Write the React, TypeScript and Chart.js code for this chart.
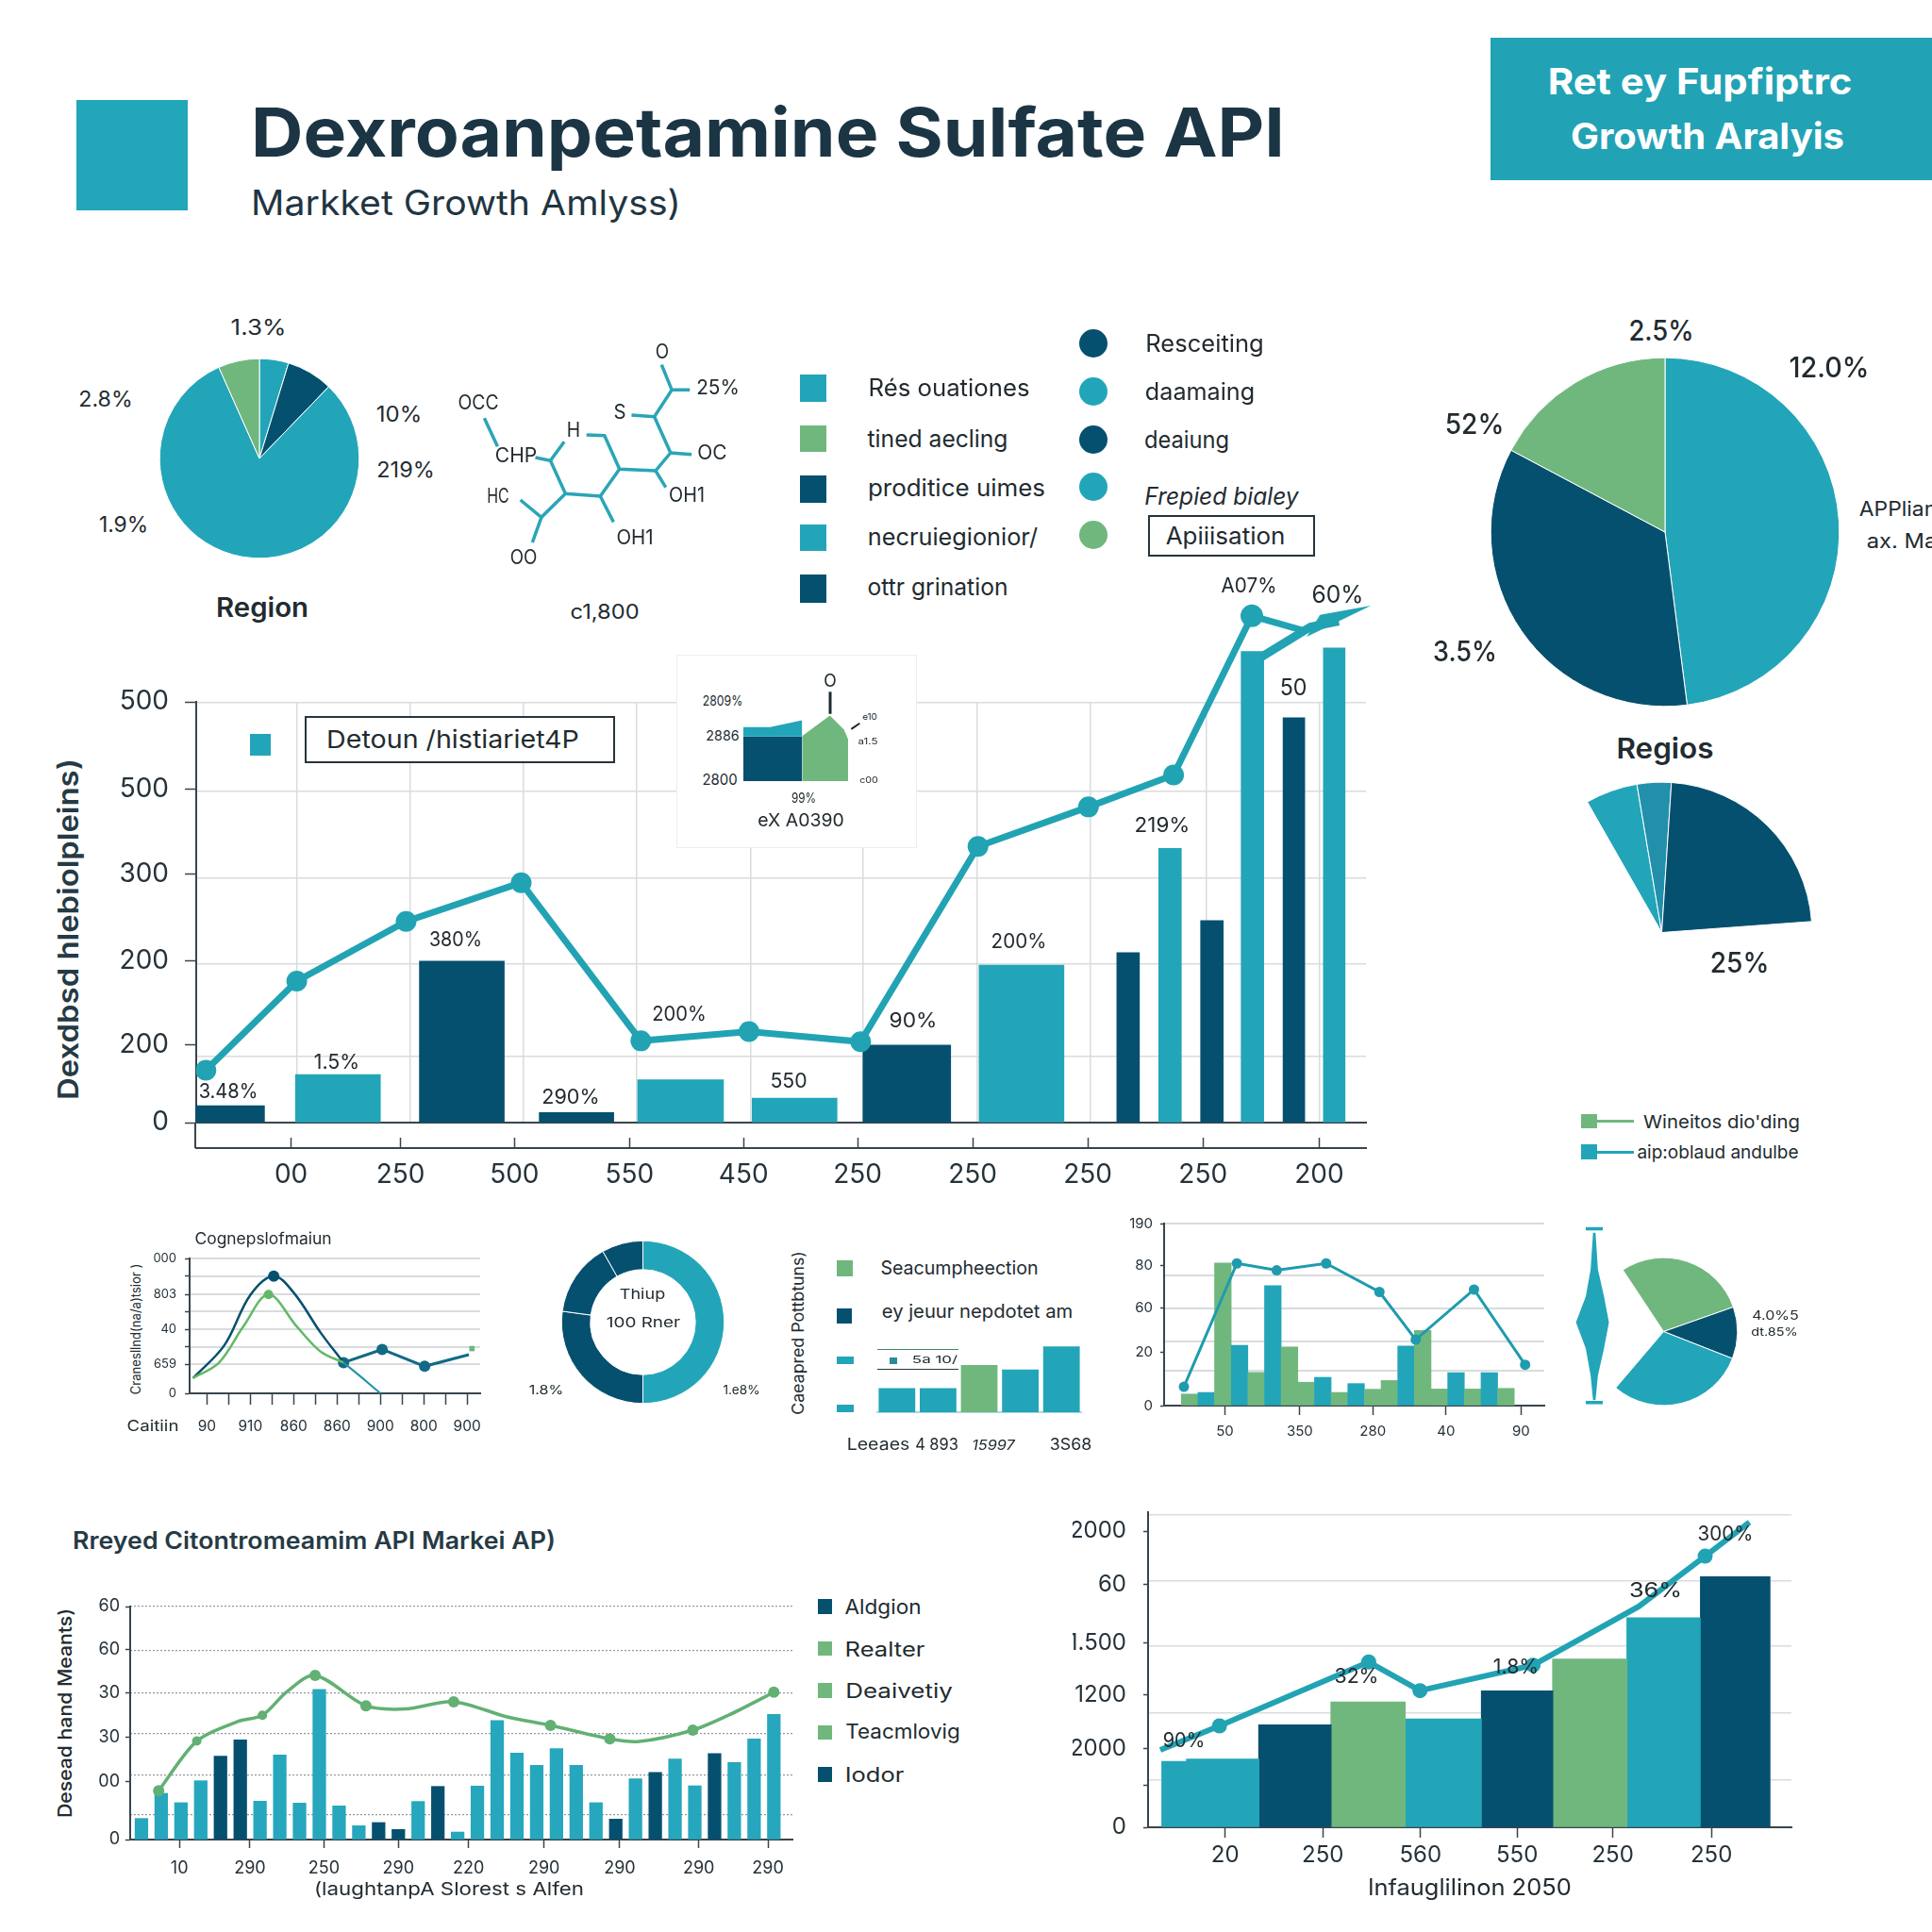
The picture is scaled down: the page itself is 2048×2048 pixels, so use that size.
import React, { useEffect, useRef } from "react";
import { Chart, registerables } from "chart.js";

Chart.register(...registerables);
Chart.defaults.plugins.legend.display = false;
Chart.defaults.plugins.tooltip.enabled = false;
Chart.defaults.font.family = "Inter";
Chart.defaults.color = "#25323a";

const S = 2048 / 1568;
const TEAL = "#23a5b9";
const DARK = "#06506f";
const GREEN = "#70b77e";
const LINE = "#22a3b3";
const GRID = "#d9dcde";
const AXIS = "#39454c";
const t = TEAL, d = DARK, g = GREEN;

// ---------- data ----------
const mainTickLabels = ["00", "250", "500", "550", "450", "250", "250", "250", "250", "200"];
const mainTickX = [0, 0.95, 1.94, 2.94, 3.93, 4.92, 5.92, 6.92, 7.92, 8.93];
const mainGridX = [0.05, 1.03, 2.02, 3.0, 3.99, 4.97, 5.96, 6.94, 7.95, 8.93];
const mainYTicks = [0, 92, 192, 295, 396, 500];
const mainYLabels = ["0", "200", "200", "300", "500", "500"];
const mainYGrid = [79, 189, 291, 394, 499];
const mainBarX = [-0.53, 0.407, 1.483, 2.479, 3.383, 4.373, 5.348, 6.344, 7.27, 7.634, 7.998, 8.35, 8.71, 9.06];
const mainBarY = [20, 57, 192, 12, 51, 29, 92, 187, 202, 326, 240, 560, 481, 564];
const mainBarW = [73, 90, 90, 79, 91, 90, 93, 90, 24, 24, 24, 24, 23, 23];
const mainBarC = [d, t, d, d, t, t, d, t, d, t, d, t, d, t];
const mainLineX = [-0.74, 0.05, 1.0, 2.0, 3.04, 3.98, 4.95, 5.97, 6.93, 7.67, 8.35, 8.79];
const mainLineY = [61, 167, 238, 284, 96, 107, 95, 327, 374, 412, 601, 584];
const mainLineR = [11, 11, 11, 11, 11, 11, 11, 11, 11, 11, 12, 0];
const arrowX = [8.43, 8.86, 9.106];
const arrowY = [552, 588, 594.7];

const pieRegion = [17, 27, 292, 24];
const pieRegionColors = [t, d, t, g];
const pieBig = [172.7, 125.3, 62];
const pieBigColors = [t, d, g];
const pieFan = [20.2, 13.2, 82.1, 244.5];
const pieFanColors = [t, "#2390ab", d, "transparent"];
const ringValues = [180, 97.7, 52.8, 29.5];
const ringColors = [t, d, d, d];
const pieSmall = [104.1, 40.8, 109, 106.1];
const pieSmallColors = [g, d, t, "transparent"];

const moleculeBonds = [
  [[1100, 260], [1117, 340], [1147, 340]],
  [[1117, 340], [1088, 425], [1050, 420]],
  [[1088, 425], [1115, 540], [1150, 545]],
  [[1115, 540], [1090, 597], [1030, 592], [1005, 485], [975, 483]],
  [[1030, 592], [998, 678], [940, 670], [915, 565], [890, 555]],
  [[915, 565], [938, 505]],
  [[1090, 597], [1107, 650]],
  [[998, 678], [1020, 760]],
  [[940, 670], [900, 745], [865, 690]],
  [[900, 745], [885, 825]],
  [[805, 430], [827, 520]],
];

const insetTop = [[265, 171], [350, 171], [452, 193]];
const insetDark = [[265, 141], [452, 141]];
const insetGreen = [[452, 143], [540, 208], [585, 163], [598, 133]];

const aTicksX = [0, 0.5, 1, 1.5, 2, 2.5, 3, 3.5, 4, 4.5, 5, 5.5, 6];
const aLabelsX = ["90", "", "910", "", "860", "", "860", "", "900", "", "800", "", "900"];
const aTicksY = [0, 23.7, 37.8, 51.8, 66.4, 80.4, 95.2, 109.7];
const aLabelsY = ["0", "659", "", "40", "", "803", "", "000"];
const aDark = [[-0.32, 12.4], [0.4, 39], [1, 80], [1.54, 95.4], [2.01, 81.4], [2.62, 49.4], [3.15, 25]];
const aGreen = [[-0.32, 12.4], [0.28, 25], [0.84, 54.4], [1.42, 80.4], [2.07, 54.4], [2.62, 34], [3.15, 25]];
const aTail = [[3.15, 25], [4.04, 35.7], [5.02, 22], [6.04, 31.4]];
const aDrop = [[3.15, 25], [3.6, 12], [4, 0]];
const aMark = [[6.11, 36.4]];

const cCats = ["a", "b", "c", "d", "e"];
const cVals = [22, 22, 43, 39, 60];
const cCols = [t, t, g, t, t];

const dBars = [9.4, 10.7, 116, 49, 27, 97.5, 47.7, 19, 23, 10.7, 17.9, 13.3, 20.4, 48.5, 61, 13.5, 26.8, 13.5, 26.8, 14];
const dCols = [g, t, g, t, g, t, g, g, t, g, t, g, g, t, g, g, t, g, t, g];
const dLine = [[-0.34, 15.3], [2.84, 115.6], [5.23, 110], [8.2, 115.6], [11.4, 92.4], [13.58, 53.6], [17.08, 94.4], [20.15, 33.2]];
const dTicksX = [2.12, 6.62, 11, 15.4, 19.9];
const dLabelsX = ["50", "350", "280", "40", "90"];
const dTicksY = [0, 43, 79, 114, 148];
const dLabelsY = ["0", "20", "60", "80", "190"];
const dGrid = [28, 52, 79, 106, 148];

const spindleLeft = [[-1, 1000], [-3, 1030], [-7, 1052], [-15, 1073], [-7, 1094], [-3, 1116], [-1, 1136]];
const spindleRight = [[1, 1000], [3, 1030], [8, 1052], [12, 1073], [8, 1094], [3, 1116], [1, 1136]];

const fBars = [17.1, 37.5, 29.9, 47.7, 67.6, 80.9, 31.1, 68.7, 29.6, 121.7, 27.3, 11.2, 13.8, 8.2, 30.9, 43.1, 6.1, 43.4, 96.5, 70.2, 60.2, 73.8, 60.2, 29.9, 16.6, 49.3, 54.4, 65.3, 43.6, 69.7, 62.5, 81.7, 101.6];
const fDarkIdx = [4, 5, 12, 13, 15, 24, 26, 29];
const fLine = [[0.87, 39.6], [2.8, 79.9], [4.87, 95.7], [6.12, 100.8], [7.37, 120], [8.79, 133.2], [11.36, 108.5], [13.36, 105.9], [15.8, 111.8], [18.5, 99.5], [20.7, 92.6], [23.7, 81.7], [25.2, 79.6], [27.9, 88.8], [29.7, 100.8], [32, 119.5]];
const fLineR = [6, 5, 0, 5, 0, 6, 6, 0, 6, 0, 6, 6, 0, 6, 0, 6];
const fTicksX = [1.92, 5.49, 9.24, 13, 16.55, 20.37, 24.2, 28.2, 31.7];
const fLabelsX = ["10", "290", "250", "290", "220", "290", "290", "290", "290"];
const fTicksY = [0, 47, 83, 119, 154.4, 189];
const fLabelsY = ["0", "00", "30", "30", "60", "60"];
const fGrid = [20, 52.3, 86.2, 119, 153.6, 189];

const gBarX = [-0.52, -0.025, 0.714, 1.463, 2.234, 2.99, 3.734, 4.49, 5.224];
const gBarY = [53.6, 55.6, 83.2, 101.8, 88, 110.8, 136.8, 170.2, 203.7];
const gBarW = [27, 77, 77, 79, 81, 76, 79, 78, 74];
const gBarC = [t, t, d, g, t, d, g, t, d];
const gLine = [[-0.665, 62.8], [-0.059, 82.4], [1.47, 134.3], [1.995, 111], [3.153, 131.7], [4.236, 179.4], [4.916, 220.3], [5.37, 247.8]];
const gLineR = [0, 8, 8, 8, 8, 0, 8, 0];
const gTicksX = [0, 1, 2, 2.99, 3.97, 4.98];
const gLabelsX = ["20", "250", "560", "550", "250", "250"];
const gTicksY = [0, 33.9, 64, 107.5, 150, 197, 240.6];
const gLabelsY = ["0", "", "2000", "1200", "1.500", "60", "2000"];
const gGrid = [38.2, 92.6, 147.3, 200.6, 253.6];

// ---------- helpers ----------
const pts = (a: number[][]) => a.map(([x, y]) => ({ x, y }));
const zip = (xs: number[], ys: number[]) => xs.map((x, i) => ({ x, y: ys[i] }));

function barsOf(xs: number[], ys: number[], ws: number[], cs: string[]) {
  return xs.map((x, i) => ({
    type: "bar",
    data: [{ x, y: ys[i] }],
    barThickness: ws[i],
    backgroundColor: cs[i],
    grouped: false,
    clip: false,
    order: 2,
  }));
}
function lineOf(data: any[], color: string, width: number, radius: any, extra: any = {}) {
  return {
    type: "line",
    data,
    borderColor: color,
    backgroundColor: color,
    borderWidth: width,
    pointRadius: radius,
    pointBorderWidth: 0,
    pointBackgroundColor: color,
    tension: 0,
    clip: false,
    order: 0,
    ...extra,
  };
}
function tickAxis(o: any) {
  return {
    type: "linear",
    min: o.min,
    max: o.max,
    position: o.position,
    weight: o.weight ?? 0,
    reverse: false,
    offset: false,
    afterFit(s: any) {
      if (s.isHorizontal()) s.height = o.size;
      else s.width = o.size;
    },
    afterBuildTicks(s: any) {
      s.ticks = o.vals.map((value: number) => ({ value }));
    },
    ticks: {
      display: o.labels !== undefined,
      autoSkip: false,
      maxRotation: 0,
      minRotation: 0,
      padding: o.padding ?? 6,
      color: o.color ?? "#25323a",
      font: { size: o.font ?? 16, family: "Inter" },
      callback: (_: any, i: number) => (o.labels ? o.labels[i] ?? "" : ""),
    },
    grid: {
      offset: false,
      drawOnChartArea: false,
      drawTicks: o.tickLength !== 0,
      tickLength: o.tickLength ?? 8,
      tickColor: o.tickColor ?? AXIS,
      tickWidth: o.tickWidth ?? 1.5,
    },
    border: { display: o.border !== false, color: o.borderColor ?? AXIS, width: o.borderWidth ?? 2 },
  };
}
function gridAxis(o: any) {
  return {
    type: "linear",
    min: o.min,
    max: o.max,
    position: o.position,
    offset: false,
    afterFit(s: any) {
      if (s.isHorizontal()) s.height = 0;
      else s.width = 0;
    },
    afterBuildTicks(s: any) {
      s.ticks = o.vals.map((value: number) => ({ value }));
    },
    ticks: { display: false },
    grid: { offset: false, drawTicks: false, color: o.color ?? GRID, lineWidth: o.lineWidth ?? 1.5 },
    border: { display: false, dash: o.dash },
  };
}

function Plot({ rect, margin = [0, 0, 0, 0], make }: any) {
  const ref = useRef<HTMLCanvasElement>(null);
  const [x1, y1, x2, y2] = rect;
  const [l, tp, r, b] = margin;
  const w = Math.round((x2 - x1) * S + l + r);
  const h = Math.round((y2 - y1) * S + tp + b);
  useEffect(() => {
    const base = make();
    const chart = new Chart(ref.current as any, {
      ...base,
      options: {
        responsive: false,
        animation: false,
        events: [],
        devicePixelRatio: 1,
        layout: { autoPadding: false, padding: { top: tp, right: r, left: 0, bottom: 0 } },
        ...base.options,
        plugins: { legend: { display: false }, tooltip: { enabled: false } },
      },
    } as any);
    return () => chart.destroy();
  }, []);
  return (
    <canvas
      ref={ref}
      width={w}
      height={h}
      style={{ position: "absolute", left: Math.round(x1 * S - l), top: Math.round(y1 * S - tp), width: w, height: h }}
    />
  );
}

function Pie({ cx, cy, r, values, colors, rotation = 0, cutout = 0, border = 1 }: any) {
  const ref = useRef<HTMLCanvasElement>(null);
  const R = r * S;
  const size = Math.ceil(2 * R + 8);
  useEffect(() => {
    const chart = new Chart(ref.current as any, {
      type: "doughnut",
      data: {
        labels: values.map((_: number, i: number) => String(i)),
        datasets: [
          {
            data: values,
            backgroundColor: colors,
            borderColor: colors.map((c: string) => (c === "transparent" ? "transparent" : "#ffffff")),
            borderWidth: border,
          },
        ],
      },
      options: {
        responsive: false,
        animation: false,
        events: [],
        devicePixelRatio: 1,
        rotation,
        radius: R,
        cutout: cutout * S,
        plugins: { legend: { display: false }, tooltip: { enabled: false } },
      },
    } as any);
    return () => chart.destroy();
  }, []);
  return (
    <canvas
      ref={ref}
      width={size}
      height={size}
      style={{ position: "absolute", left: Math.round(cx * S - size / 2), top: Math.round(cy * S - size / 2), width: size, height: size }}
    />
  );
}

let measure: CanvasRenderingContext2D | null = null;
function T({ x1, x2, y, text, size = 22, weight = 400, color = "#222b30", italic = false, rot = false, family = "Inter" }: any) {
  if (!measure) measure = document.createElement("canvas").getContext("2d");
  const font = `${italic ? "italic " : ""}${weight} ${size}px ${family}`;
  (measure as any).font = font;
  const w = (measure as any).measureText(text).width || 1;
  const k = ((x2 - x1) * S) / w;
  const cx = rot ? y : (x1 + x2) / 2;
  const cy = rot ? (x1 + x2) / 2 : y;
  return (
    <span
      style={{
        position: "absolute",
        left: cx * S,
        top: cy * S,
        whiteSpace: "nowrap",
        font,
        lineHeight: 1,
        color,
        transform: `translate(-50%,-50%) ${rot ? "rotate(-90deg)" : ""} scaleX(${k})`,
      }}
    >
      {text}
    </span>
  );
}

function Box({ x1, y1, x2, y2, c, round = false, style = {} }: any) {
  return (
    <div
      style={{
        position: "absolute",
        left: x1 * S,
        top: y1 * S,
        width: (x2 - x1) * S,
        height: (y2 - y1) * S,
        background: c,
        borderRadius: round ? "50%" : 0,
        boxSizing: "border-box",
        ...style,
      }}
    />
  );
}

// ---------- charts ----------
const MAIN_X_MIN = -0.824;
function mainConfig() {
  const xMax = 9.336;
  return {
    type: "bar",
    data: { datasets: barsOf(mainBarX, mainBarY, mainBarW, mainBarC) },
    options: {
      scales: {
        y: tickAxis({ min: 0, max: 500, position: "left", size: 90, vals: mainYTicks, labels: mainYLabels, font: 28, padding: 17, tickLength: 12 }),
        yg: gridAxis({ min: 0, max: 500, position: "right", vals: mainYGrid }),
        xg: gridAxis({ min: MAIN_X_MIN, max: xMax, position: "top", vals: mainGridX }),
        x: tickAxis({ min: MAIN_X_MIN, max: xMax, position: "bottom", weight: 0, size: 27, vals: [], tickLength: 0, border: true }),
        x2: tickAxis({ min: MAIN_X_MIN, max: xMax, position: "bottom", weight: 1, size: 57, vals: mainTickX, labels: mainTickLabels, font: 28, tickLength: -11, padding: 23 }),
      },
    },
  };
}

// The trend line rises above the axis frame, so it sits on its own transparent layer
// whose scales continue the main chart's scales upward and to the right.
function mainLineConfig() {
  const arrow = document.createElement("canvas");
  arrow.width = 68;
  arrow.height = 33;
  const c = arrow.getContext("2d") as CanvasRenderingContext2D;
  c.fillStyle = LINE;
  c.beginPath();
  c.moveTo(14, 9.7);
  c.lineTo(68, 0);
  c.lineTo(0, 33);
  c.closePath();
  c.fill();
  return {
    type: "line",
    data: {
      datasets: [
        lineOf(zip(mainLineX, mainLineY), LINE, 7, mainLineR),
        lineOf(zip(arrowX, arrowY), LINE, 9, [0, 0, 17], {
          pointStyle: (ctx: any) => (ctx.dataIndex === 2 ? arrow : "circle"),
        }),
      ],
    },
    options: {
      scales: {
        x: { type: "linear", min: MAIN_X_MIN, max: 9.465, display: false },
        y: { type: "linear", min: 0, max: 630, display: false },
      },
    },
  };
}

function moleculeConfig() {
  return {
    type: "scatter",
    data: {
      datasets: moleculeBonds.map((b) => ({
        data: pts(b),
        showLine: true,
        borderColor: "#2aa5b6",
        borderWidth: 3.5,
        pointRadius: 0,
      })),
    },
    options: {
      scales: {
        x: { type: "linear", min: 740, max: 1200, display: false },
        y: { type: "linear", min: 240, max: 840, reverse: true, display: false },
      },
    },
  };
}

function insetConfig() {
  return {
    type: "line",
    data: {
      datasets: [
        lineOf(pts(insetTop), TEAL, 0, 0, { fill: "+1" }),
        lineOf(pts(insetDark), DARK, 0, 0, { fill: "origin" }),
        lineOf(pts(insetGreen), GREEN, 0, 0, { fill: "origin" }),
        lineOf(pts([[541, 213], [541, 283]]), "#1c2a30", 3, 0),
        lineOf(pts([[608, 165], [635, 183]]), "#1c2a30", 2, 0),
      ],
    },
    options: {
      scales: {
        x: { type: "linear", min: 265, max: 640, display: false },
        y: { type: "linear", min: 0, max: 293, display: false },
      },
    },
  };
}

function aConfig() {
  const yb = { min: 0, max: 109.7 };
  const xb = { min: -0.4, max: 6.3 };
  return {
    type: "line",
    data: {
      datasets: [
        lineOf(pts(aDrop), "#1f93a8", 2, 0, { tension: 0.2 }),
        lineOf(pts(aGreen), "#63b867", 2.5, [0, 0, 0, 5, 0, 0, 0], { tension: 0.35 }),
        lineOf(pts(aDark), DARK, 2.5, [0, 0, 0, 6, 0, 0, 0], { tension: 0.35 }),
        lineOf(pts(aTail), "#126a86", 3, [6, 6, 6, 0]),
        lineOf(pts(aMark), GREEN, 0, 4, { pointStyle: "rect" }),
      ],
    },
    options: {
      scales: {
        x: tickAxis({ ...xb, position: "bottom", size: 50, vals: aTicksX, labels: aLabelsX, font: 15.5, tickLength: 12, padding: 14 }),
        y: tickAxis({ ...yb, position: "left", size: 45, vals: aTicksY, labels: aLabelsY, font: 13, tickLength: 5, padding: 9 }),
        yg: gridAxis({ ...yb, position: "right", vals: aTicksY.slice(1), lineWidth: 2 }),
      },
    },
  };
}

function cConfig() {
  return {
    type: "bar",
    data: {
      labels: cCats,
      datasets: [{ data: cVals, backgroundColor: cCols, barPercentage: 0.89, categoryPercentage: 1 }],
    },
    options: {
      scales: {
        x: { grid: { display: false }, ticks: { display: false }, border: { color: "#a9dbe3", width: 2 } },
        y: { display: false, min: 0, max: 62 },
      },
    },
  };
}

function dConfig() {
  const xb = { min: -1.53, max: 21.3 };
  const yb = { min: 0, max: 148 };
  return {
    type: "bar",
    data: {
      datasets: [
        {
          type: "bar",
          data: dBars.map((y, i) => ({ x: i, y })),
          backgroundColor: dCols,
          barThickness: 17.6,
          clip: false,
          order: 2,
        },
        lineOf(pts(dLine), "#1f9bae", 3, 5.5),
      ],
    },
    options: {
      scales: {
        x: tickAxis({ ...xb, position: "bottom", size: 42, vals: dTicksX, labels: dLabelsX, font: 15, tickLength: 10, padding: 8 }),
        y: tickAxis({ ...yb, position: "left", size: 40, vals: dTicksY, labels: dLabelsY, font: 15, tickLength: 4, padding: 8 }),
        yg: gridAxis({ ...yb, position: "right", vals: dGrid, lineWidth: 2 }),
      },
    },
  };
}

function spindleConfig() {
  return {
    type: "line",
    data: {
      datasets: [
        lineOf(pts(spindleLeft), TEAL, 0, 0, { fill: "+1" }),
        lineOf(pts(spindleRight), TEAL, 0, 0),
        lineOf(pts([[-7, 997], [7, 997]]), TEAL, 3.5, 0),
        lineOf(pts([[-7, 1138], [7, 1138]]), TEAL, 3.5, 0),
      ],
    },
    options: {
      indexAxis: "y",
      scales: {
        x: { type: "linear", min: -17, max: 17, display: false },
        y: { type: "linear", min: 992, max: 1142, reverse: true, display: false },
      },
    },
  };
}

function fConfig() {
  const xb = { min: -0.57, max: 32.94 };
  const yb = { min: 0, max: 189 };
  return {
    type: "bar",
    data: {
      datasets: [
        {
          type: "bar",
          data: fBars.map((y, i) => ({ x: i, y })),
          backgroundColor: fBars.map((_, i) => (fDarkIdx.includes(i) ? DARK : "#26a7bd")),
          barThickness: 13.6,
          clip: false,
          order: 2,
        },
        lineOf(pts(fLine), "#62b074", 3.5, fLineR, { tension: 0.3 }),
      ],
    },
    options: {
      scales: {
        x: tickAxis({ ...xb, position: "bottom", size: 45, vals: fTicksX, labels: fLabelsX, font: 18, tickLength: 9, padding: 11 }),
        y: tickAxis({ ...yb, position: "left", size: 40, vals: fTicksY, labels: fLabelsY, font: 18, tickLength: 5, padding: 6 }),
        yg: gridAxis({ ...yb, position: "right", vals: fGrid, lineWidth: 1.2, color: "#8d979b", dash: [2, 2] }),
      },
    },
  };
}

function gConfig() {
  const xb = { min: -0.79, max: 5.8 };
  const yb = { min: 0, max: 256 };
  return {
    type: "bar",
    data: {
      datasets: [
        ...barsOf(gBarX, gBarY, gBarW, gBarC),
        lineOf(pts(gLine), LINE, 6, gLineR),
      ],
    },
    options: {
      scales: {
        x: tickAxis({ ...xb, position: "bottom", size: 50, vals: gTicksX, labels: gLabelsX, font: 24, tickLength: 11, padding: 4 }),
        y: tickAxis({ ...yb, position: "left", size: 80, vals: gTicksY, labels: gLabelsY, font: 24, tickLength: 5, padding: 18 }),
        yg: gridAxis({ ...yb, position: "right", vals: gGrid }),
      },
    },
  };
}

// ---------- page ----------
export default function App() {
  return (
    <div style={{ position: "absolute", left: 0, top: 0, width: 2048, height: 2048, overflow: "hidden", background: "#ffffff" }}>
      {/* header */}
      <Box x1={62} y1={81} x2={152} y2={171} c="#22a6ba" />
      <T x1={204} x2={1043} y={107} text="Dexroanpetamine Sulfate API" size={72} weight={700} color="#1b3544" />
      <T x1={204} x2={553} y={164} text="Markket Growth Amlyss)" size={37} weight={400} color="#1f3542" />
      <Box x1={1210} y1={31} x2={1568} y2={146} c="#22a2b5" />
      <T x1={1256} x2={1503} y={66} text="Ret ey Fupfiptrc" size={38} weight={700} color="#ffffff" />
      <T x1={1275} x2={1497} y={110} text="Growth Aralyis" size={38} weight={700} color="#ffffff" />

      {/* region pie */}
      <Pie cx={210.5} cy={372} r={81} values={pieRegion} colors={pieRegionColors} />
      <T x1={187} x2={232} y={266} text="1.3%" size={23} />
      <T x1={64} x2={108} y={324} text="2.8%" size={23} />
      <T x1={305} x2={342} y={336} text="10%" size={23} />
      <T x1={306} x2={353} y={381} text="219%" size={23} />
      <T x1={80} x2={120} y={426} text="1.9%" size={23} />
      <T x1={175} x2={250} y={493} text="Region" size={28} weight={600} />

      {/* molecule */}
      <Plot rect={[361.3, 291, 585.9, 444]} make={moleculeConfig} />
      <T x1={532} x2={543} y={285} text="O" size={21} />
      <T x1={565} x2={600} y={314} text="25%" size={21} />
      <T x1={372} x2={405} y={326} text="OCC" size={21} />
      <T x1={498} x2={508} y={334} text="S" size={21} />
      <T x1={460} x2={471} y={348} text="H" size={21} />
      <T x1={402} x2={436} y={369} text="CHP" size={21} />
      <T x1={566} x2={590} y={367} text="OC" size={21} />
      <T x1={395} x2={413} y={402} text="HC" size={21} />
      <T x1={543} x2={572} y={401} text="OH1" size={21} />
      <T x1={500} x2={530} y={436} text="OH1" size={21} />
      <T x1={414} x2={436} y={452} text="OO" size={21} />
      <T x1={463} x2={519} y={496} text="c1,800" size={21} />

      {/* legends */}
      <Box x1={649} y1={304} x2={671} y2={326} c={TEAL} />
      <Box x1={649} y1={345} x2={671} y2={367} c={GREEN} />
      <Box x1={649} y1={386} x2={671} y2={408} c={DARK} />
      <Box x1={649} y1={426} x2={671} y2={447} c={TEAL} />
      <Box x1={649} y1={466} x2={671} y2={489} c={DARK} />
      <T x1={705} x2={836} y={315} text="Rés ouationes" size={25} />
      <T x1={704} x2={818} y={356} text="tined aecling" size={25} />
      <T x1={704} x2={848} y={396} text="proditice uimes" size={25} />
      <T x1={704} x2={842} y={436} text="necruiegionior/" size={25} />
      <T x1={704} x2={818} y={476} text="ottr grination" size={25} />
      <Box x1={875.5} y1={267.5} x2={898.5} y2={290.5} c={DARK} round />
      <Box x1={875.5} y1={306.5} x2={898.5} y2={329.5} c={TEAL} round />
      <Box x1={875.5} y1={345.5} x2={898.5} y2={368.5} c={DARK} round />
      <Box x1={875.5} y1={383.5} x2={898.5} y2={406.5} c={TEAL} round />
      <Box x1={875.5} y1={422.5} x2={898.5} y2={445.5} c={GREEN} round />
      <T x1={930} x2={1026} y={279} text="Resceiting" size={25} />
      <T x1={929} x2={1018} y={318} text="daamaing" size={25} />
      <T x1={929} x2={998} y={357} text="deaiung" size={25} />
      <T x1={929} x2={1054} y={403} text="Frepied bialey" size={25} italic />
      <Box x1={932} y1={418} x2={1067} y2={451.5} c="#fff" style={{ border: "2px solid #28343a" }} />
      <T x1={946} x2={1043} y={435} text="Apiiisation" size={25} />

      {/* big right pie */}
      <Pie cx={1351} cy={432} r={141.5} values={pieBig} colors={pieBigColors} />
      <T x1={1322} x2={1375} y={268} text="2.5%" size={30} weight={500} />
      <T x1={1452} x2={1517} y={298} text="12.0%" size={30} weight={500} />
      <T x1={1173} x2={1221} y={344} text="52%" size={30} weight={500} />
      <T x1={1163} x2={1215} y={528} text="3.5%" size={30} weight={500} />
      <T x1={1509} x2={1572} y={413} text="APPlian" size={21} />
      <T x1={1515} x2={1572} y={439} text="ax. Ma" size={21} />
      <T x1={1312} x2={1391} y={607} text="Regios" size={30} weight={600} />
      <Pie cx={1349} cy={757} r={122} values={pieFan} colors={pieFanColors} rotation={-29.7} />
      <T x1={1388} x2={1436} y={781} text="25%" size={30} weight={500} />
      <Box x1={1283} y1={904} x2={1296} y2={916} c={GREEN} />
      <Box x1={1296} y1={909} x2={1326} y2={911} c={GREEN} />
      <Box x1={1283} y1={929} x2={1296} y2={941} c={TEAL} />
      <Box x1={1296} y1={934} x2={1326} y2={936} c={TEAL} />
      <T x1={1334} x2={1461} y={910} text="Wineitos dio'ding" size={19} />
      <T x1={1329} x2={1460} y={935} text="aip:oblaud andulbe" size={19} />

      {/* main chart */}
      <Plot rect={[159, 569.5, 1108, 911]} margin={[90, 70, 30, 84]} make={mainConfig} />
      <Box x1={158} y1={911} x2={159.4} y2={932} c={AXIS} />
      <Box x1={203} y1={596} x2={220} y2={613} c={TEAL} />
      <Box x1={247} y1={581} x2={499} y2={619.5} c="#fff" style={{ border: "2px solid #28343a" }} />
      <T x1={265} x2={470} y={600} text="Detoun /histiariet4P" size={26} />
      <T x1={616} x2={893} y={55} rot text="Dexdbsd hlebiolpleins)" size={30} weight={600} color="#263a44" />

      {/* inset */}
      <Box x1={549} y1={531} x2={744} y2={688} c="#fff" style={{ border: "1px solid #eceeef" }} />
      <Plot rect={[603.6, 559, 699.3, 633.8]} make={insetConfig} />
      <T x1={570.5} x2={603} y={568.4} text="2809%" size={15} />
      <T x1={573} x2={600} y={596.8} text="2886" size={15} />
      <T x1={570} x2={598.5} y={632.5} text="2800" size={16} />
      <T x1={700} x2={712} y={581.4} text="e10" size={9} />
      <T x1={696} x2={712} y={600.8} text="a1.5" size={9} />
      <T x1={697.6} x2={712.6} y={632.5} text="c00" size={9} />
      <T x1={668.7} x2={679} y={553} text="O" size={18} />
      <T x1={642} x2={662} y={647.6} text="99%" size={14} />
      <T x1={615} x2={685} y={665.7} text="eX A0390" size={19} />

      {/* trend line over the main chart and inset frame */}
      <Plot rect={[159, 480.4, 1120, 911]} make={mainLineConfig} />
      <T x1={161} x2={209} y={885} text="3.48%" size={21} />
      <T x1={255} x2={292} y={861} text="1.5%" size={21} />
      <T x1={348} x2={391} y={762} text="380%" size={21} />
      <T x1={440} x2={487} y={890} text="290%" size={21} />
      <T x1={529} x2={573} y={822} text="200%" size={21} />
      <T x1={625} x2={655} y={877} text="550" size={21} />
      <T x1={722} x2={761} y={828} text="90%" size={21} />
      <T x1={804} x2={849} y={763} text="200%" size={21} />
      <T x1={921} x2={966} y={669} text="219%" size={21} />
      <T x1={1039} x2={1061} y={558} text="50" size={24} />
      <T x1={991} x2={1036} y={475} text="A07%" size={22} />
      <T x1={1065} x2={1107} y={482} text="60%" size={25} />

      {/* chart A */}
      <Plot rect={[154, 1021.7, 390, 1131.4]} margin={[45, 30, 40, 50]} make={aConfig} />
      <T x1={158} x2={269} y={1005} text="Cognepslofmaiun" size={17} />
      <T x1={1026} x2={1132} y={110} rot text="Cranesllnd(na/a)tsior )" size={14} />
      <T x1={103} x2={145} y={1157} text="Caitiin" size={16} />

      {/* ring */}
      <Pie cx={522} cy={1073} r={66} values={ringValues} colors={ringColors} cutout={44.5} />
      <T x1={503} x2={540} y={1050} text="Thiup" size={15} />
      <T x1={492} x2={552} y={1073} text="100 Rner" size={15} />
      <T x1={429} x2={457} y={1128} text="1.8%" size={13} />
      <T x1={587} x2={617} y={1128} text="1.e8%" size={13} />

      {/* chart C */}
      <Plot rect={[711, 1091, 878, 1152.5]} make={cConfig} />
      <T x1={1015} x2={1148} y={648} rot text="Caeapred Pottbtuns)" size={17} />
      <Box x1={679} y1={1023} x2={692} y2={1036} c={GREEN} />
      <Box x1={679} y1={1062} x2={691} y2={1074} c={DARK} />
      <Box x1={679} y1={1101} x2={693} y2={1107} c={TEAL} />
      <Box x1={679} y1={1140} x2={693} y2={1146} c={TEAL} />
      <T x1={715} x2={843} y={1029} text="Seacumpheection" size={20} />
      <T x1={716} x2={871} y={1064} text="ey jeuur nepdotet am" size={20} />
      <Box x1={712} y1={1094.5} x2={778} y2={1095.5} c="#3f8a55" />
      <Box x1={712} y1={1111} x2={778} y2={1112} c="#28343a" />
      <Box x1={722} y1={1102} x2={728} y2={1107} c="#2b8a9b" />
      <T x1={740} x2={777} y={1103} text="5a 10/" size={11} />
      <T x1={687} x2={738} y={1172} text="Leeaes" size={17} />
      <T x1={743} x2={778} y={1172} text="4 893" size={17} />
      <T x1={789} x2={824} y={1172} text="15997" size={15} italic />
      <T x1={852} x2={886} y={1172} text="3S68" size={17} />

      {/* chart D */}
      <Plot rect={[944.7, 992.8, 1253, 1140.8]} margin={[40, 30, 30, 42]} make={dConfig} />
      <Plot rect={[1277.3, 992, 1311.3, 1142]} make={spindleConfig} />
      <Pie cx={1350} cy={1081} r={60} values={pieSmall} colors={pieSmallColors} rotation={-33.5} />
      <T x1={1422} x2={1460} y={1067} text="4.0%5" size={13} />
      <T x1={1421} x2={1459} y={1081} text="dt.85%" size={12} />

      {/* chart F */}
      <T x1={59} x2={451} y={1250} text="Rreyed Citontromeamim API Markei AP)" size={25} weight={600} color="#263a44" />
      <Plot rect={[105.5, 1304, 643, 1493]} margin={[40, 30, 30, 45]} make={fConfig} />
      <T x1={1305} x2={1475} y={53} rot text="Desead hand Meants)" size={20} weight={500} />
      <T x1={255} x2={474} y={1533} text="(laughtanpA Slorest s Alfen" size={19} />
      <Box x1={664} y1={1298} x2={675} y2={1310} c={DARK} />
      <Box x1={664} y1={1332} x2={675} y2={1344} c={GREEN} />
      <Box x1={664} y1={1366} x2={675} y2={1378} c={GREEN} />
      <Box x1={664} y1={1400} x2={675} y2={1412} c={GREEN} />
      <Box x1={664} y1={1434} x2={675} y2={1446} c={DARK} />
      <T x1={686} x2={748} y={1304} text="Aldgion" size={21} />
      <T x1={686} x2={751} y={1338} text="Realter" size={21} />
      <T x1={686} x2={773} y={1372} text="Deaivetiy" size={21} />
      <T x1={686} x2={779} y={1405} text="Teacmlovig" size={21} />
      <T x1={686} x2={734} y={1440} text="Iodor" size={21} />

      {/* chart G */}
      <Plot rect={[931.8, 1227.6, 1454, 1483.6]} margin={[80, 40, 40, 50]} make={gConfig} />
      <T x1={944} x2={978} y={1412} text="90%" size={21} />
      <T x1={1083} x2={1119} y={1360} text="32%" size={21} />
      <T x1={1212} x2={1249} y={1352} text="1.8%" size={21} />
      <T x1={1322} x2={1365} y={1290} text="36%" size={21} />
      <T x1={1378} x2={1423} y={1244} text="300%" size={21} />
      <T x1={1110} x2={1275} y={1532} text="lnfauglilinon 2050" size={24} />
    </div>
  );
}
